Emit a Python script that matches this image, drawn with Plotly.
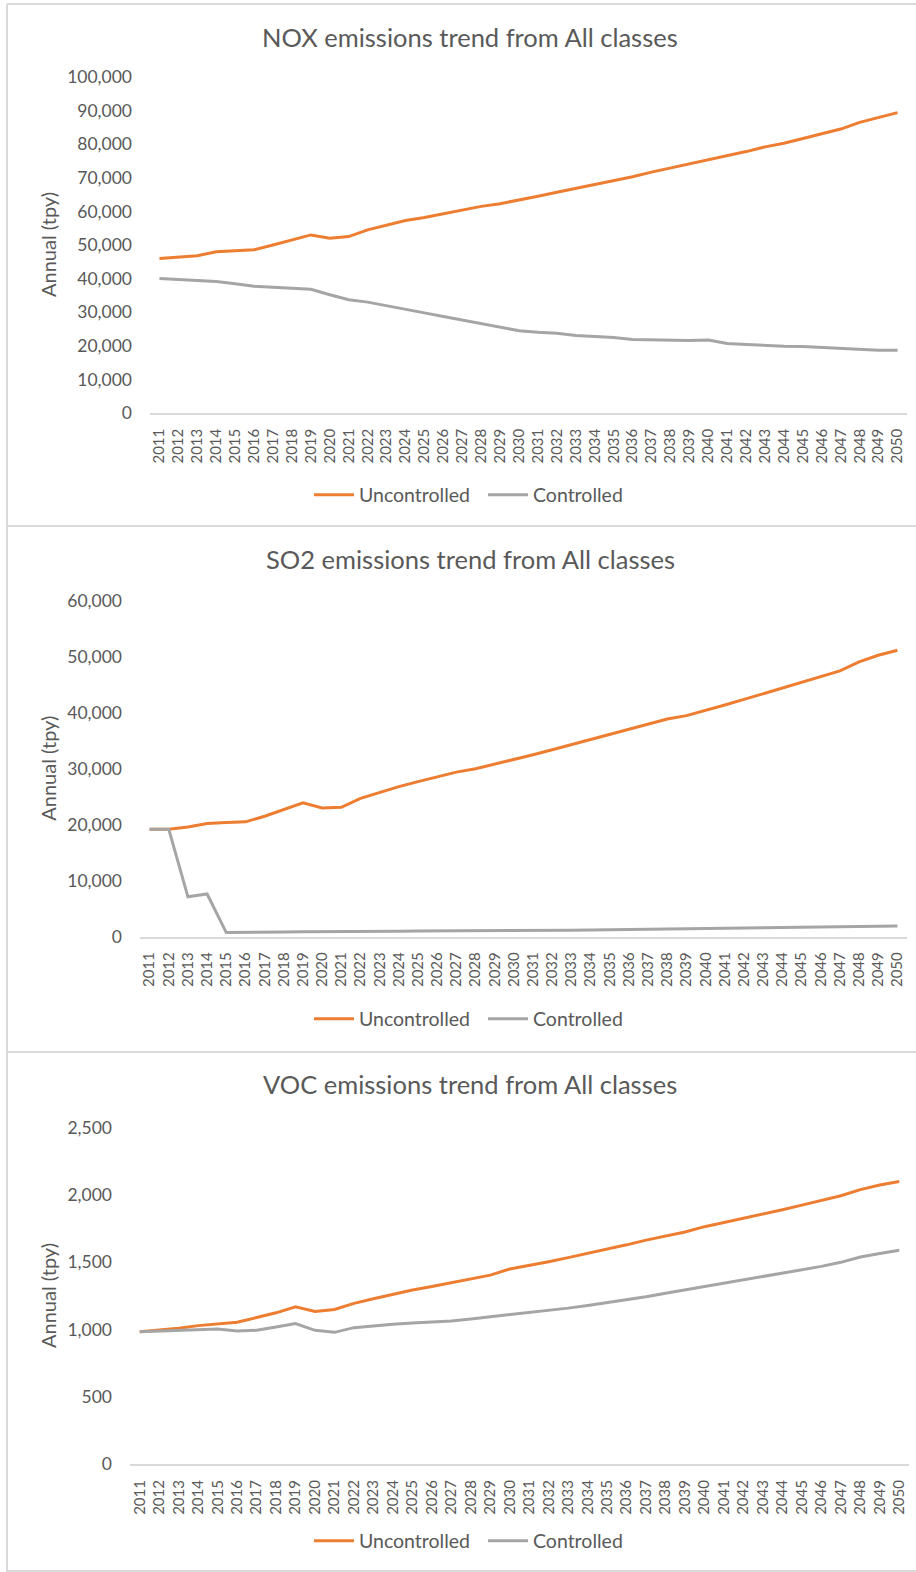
import plotly.graph_objects as go

years = [str(y) for y in range(2011, 2051)]

nox_unc = [46000, 46300, 46800, 48000, 48300, 48600, 50000, 51500, 53000, 52000,
           52500, 54500, 56000, 57300, 58200, 59300, 60500, 61500, 62300, 63300,
           64500, 65700, 66800, 68000, 69200, 70300, 71700, 72900, 74000, 75300,
           76500, 77800, 79200, 80300, 81700, 83100, 84500, 86500, 88000, 89400]
nox_ctl = [40000, 39700, 39400, 39100, 38500, 37700, 37400, 37200, 36800, 35200,
           33700, 33000, 32000, 30900, 29800, 28700, 27600, 26500, 25400, 24500,
           24000, 23700, 23100, 22800, 22500, 21900, 21800, 21600, 21600, 21700,
           20700, 20400, 20100, 19900, 19800, 19500, 19200, 18900, 18700, 18700]

so2_unc = [19200, 19200, 19600, 20200, 20400, 20500, 21500, 22700, 23900, 23000,
           23100, 24700, 25800, 26800, 27700, 28600, 29400, 30000, 30800, 31700,
           32500, 33400, 34300, 35200, 36200, 37100, 38000, 38900, 39500, 40400,
           41400, 42400, 43400, 44400, 45400, 46400, 47500, 49100, 50300, 51200]
so2_ctl = [19200, 19200, 7100, 7600, 700, 700, 750, 800, 850, 850,
           850, 850, 900, 950, 1000, 1000, 1000, 1000, 1000, 1050,
           1100, 1100, 1100, 1150, 1200, 1250, 1300, 1300, 1350, 1400,
           1450, 1500, 1500, 1550, 1600, 1650, 1700, 1750, 1850, 1900]

voc_unc = [985, 995, 1010, 1030, 1045, 1055, 1090, 1125, 1170, 1135,
           1150, 1195, 1230, 1265, 1295, 1320, 1350, 1380, 1405, 1450,
           1475, 1505, 1535, 1565, 1600, 1630, 1665, 1695, 1725, 1765,
           1795, 1830, 1860, 1890, 1925, 1960, 1995, 2040, 2075, 2100]
voc_ctl = [985, 990, 1000, 1005, 1005, 990, 995, 1020, 1045, 995,
           980, 1015, 1030, 1040, 1050, 1055, 1065, 1080, 1095, 1110,
           1125, 1145, 1160, 1180, 1200, 1220, 1245, 1270, 1295, 1320,
           1340, 1365, 1390, 1415, 1445, 1470, 1500, 1540, 1565, 1590]

titles = ["NOX emissions trend from All classes",
          "SO2 emissions trend from All classes",
          "VOC emissions trend from All classes"]
series_names = ["Uncontrolled", "Controlled"]
y_title = "Annual (tpy)"
y_ranges = [[0, 100000], [0, 60000], [0, 2500]]
y_dticks = [10000, 10000, 500]

W, H = 916, 1572
ORANGE = "#ED7D31"
GRAY = "#A5A5A5"
TXT = "#595959"
FONT = "Lato"

def px(x):
    return x / W

def py(y):
    return 1 - y / H

# pixel geometry per panel: (x0, x1, ytop, ybottom, title_y, legend_y, ytitle_x)
geo = [
    (150, 907, 77, 413, 38, 495, 48),
    (140, 907, 601, 936.5, 560, 1019, 48),
    (130, 909, 1127.7, 1464.3, 1085, 1541, 48),
]

fig = go.Figure()
data = [(nox_unc, nox_ctl), (so2_unc, so2_ctl), (voc_unc, voc_ctl)]
for i, (unc, ctl) in enumerate(data):
    n = i + 1
    xa = "x" if n == 1 else f"x{n}"
    ya = "y" if n == 1 else f"y{n}"
    lg = "legend" if n == 1 else f"legend{n}"
    for name, vals, col in [(series_names[0], unc, ORANGE), (series_names[1], ctl, GRAY)]:
        fig.add_trace(go.Scatter(x=years, y=vals, mode="lines", name=name,
                                 line=dict(color=col, width=3),
                                 xaxis=xa, yaxis=ya, legend=lg))

layout = dict(width=W, height=H, margin=dict(l=0, r=0, t=0, b=0, autoexpand=False),
              paper_bgcolor="white", plot_bgcolor="white",
              font=dict(family=FONT, color=TXT), showlegend=True)

annotations = []
shapes = []
for i, (x0, x1, yt, yb, ty, ly, ytx) in enumerate(geo):
    n = i + 1
    xk = "xaxis" if n == 1 else f"xaxis{n}"
    yk = "yaxis" if n == 1 else f"yaxis{n}"
    lk = "legend" if n == 1 else f"legend{n}"
    anchor_y = "y" if n == 1 else f"y{n}"
    anchor_x = "x" if n == 1 else f"x{n}"
    layout[xk] = dict(domain=[px(x0), px(x1)], anchor=anchor_y, type="category",
                      range=[-0.5, 39.5], tickangle=-90, showgrid=False,
                      showline=True, linecolor="#D9D9D9", linewidth=1.5,
                      ticks="", ticklabelstandoff=8, automargin=False,
                      tickfont=dict(family=FONT, size=15, color=TXT),
                      fixedrange=True)
    layout[yk] = dict(domain=[py(yb), py(yt)], anchor=anchor_x, range=y_ranges[i],
                      dtick=y_dticks[i], tickformat=",d", showgrid=False,
                      zeroline=False, showline=False, ticks="",
                      ticklabelstandoff=17, automargin=False,
                      tickfont=dict(family=FONT, size=17.5, color=TXT),
                      fixedrange=True)
    layout[lk] = dict(orientation="h", x=px(483), y=py(ly), xanchor="center",
                      yanchor="middle", font=dict(family=FONT, size=19.5, color=TXT),
                      bgcolor="rgba(0,0,0,0)", itemwidth=40, entrywidth=119)
    annotations.append(dict(text=titles[i], x=px(470), y=py(ty - 1), xref="paper",
                            yref="paper", showarrow=False, xanchor="center",
                            yanchor="middle",
                            font=dict(family=FONT, size=25.5, color=TXT)))
    annotations.append(dict(text=y_title, x=px(ytx), y=py((yt + yb) / 2),
                            xref="paper", yref="paper", showarrow=False,
                            textangle=-90, xanchor="center", yanchor="middle",
                            font=dict(family=FONT, size=20, color=TXT)))

border = "#D9D9D9"
for (xa0, ya0, xa1, ya1) in [(7, 4, 916, 4), (7, 4, 7, 1572), (7, 526, 916, 526),
                             (7, 1052, 916, 1052), (7, 1571, 916, 1571)]:
    shapes.append(dict(type="line", xref="paper", yref="paper",
                       x0=px(xa0), y0=py(ya0), x1=px(xa1), y1=py(ya1),
                       line=dict(color=border, width=2)))

layout["annotations"] = annotations
layout["shapes"] = shapes
fig.update_layout(**layout)
fig.write_html("out.html", config={"displayModeBar": False},
               post_script="document.body.style.margin='0';document.body.style.overflow='hidden';")
